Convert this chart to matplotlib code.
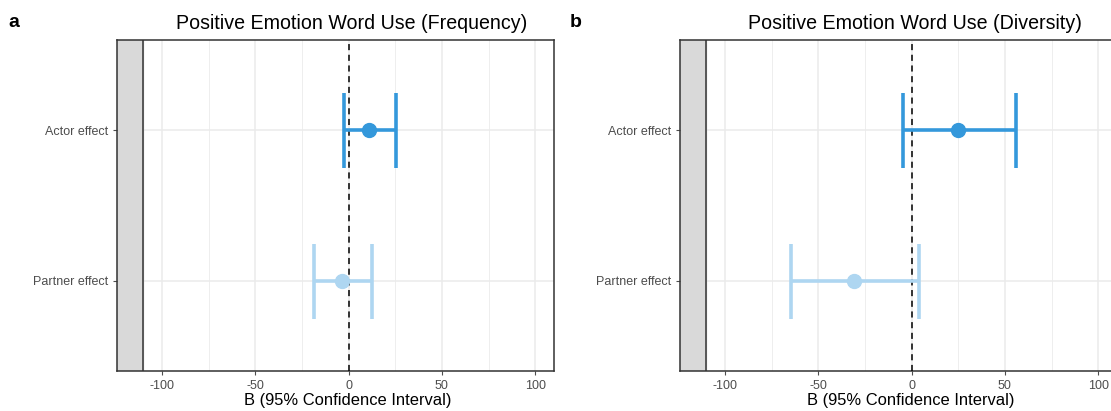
import matplotlib.pyplot as plt
import numpy as np

plt.rcParams['font.family'] = ['Liberation Sans', 'DejaVu Sans']

effects = ["Partner effect", "Actor effect"]
colors = ["#aed6f1", "#3498db"]

# panel a: frequency
freq_est = [-3.5, 11]
freq_lo = [-18.5, -2.5]
freq_hi = [12.5, 25.5]

# panel b: diversity
div_est = [-31, 25]
div_lo = [-64.5, -4.5]
div_hi = [4, 56]

titles = ["Positive Emotion Word Use (Frequency)", "Positive Emotion Word Use (Diversity)"]
tags = ["a", "b"]

fig = plt.figure(figsize=(11.11, 4.11), dpi=100)
boxes = [[117/1111, 40/411, 437/1111, 331/411],
         [680/1111, 40/411, 437/1111, 331/411]]
data = [(freq_est, freq_lo, freq_hi), (div_est, div_lo, div_hi)]

for i in range(2):
    ax = fig.add_axes(boxes[i])
    est, lo, hi = data[i]
    ax.set_xlim(-124, 110)
    ax.set_ylim(0.4, 2.6)
    # grid
    for gx in np.arange(-100, 101, 25):
        ax.axvline(gx, color="#ebebeb", lw=1.1 if gx % 50 == 0 else 0.6, zorder=0)
    for gy in [1, 2]:
        ax.axhline(gy, color="#ebebeb", lw=1.1, zorder=0)
    ax.axvspan(-124, -110, color="#d9d9d9", zorder=1)
    ax.axvline(-110, color="#333333", lw=1.1, zorder=2)
    ax.axvline(0, color="black", lw=1.1, ls=(0, (4, 3)), zorder=3)
    for j in range(2):
        y = j + 1
        ax.errorbar(est[j], y, xerr=[[est[j] - lo[j]], [hi[j] - est[j]]],
                    fmt="o", color=colors[j], ms=10, elinewidth=2.6,
                    capsize=27, capthick=2.6, zorder=4 + j)
    ax.set_yticks([1, 2])
    ax.set_yticklabels(effects)
    ax.set_xticks([-100, -50, 0, 50, 100])
    ax.set_xticklabels(["-100", "-50", "0", "50", "100"])
    ax.tick_params(colors="#4d4d4d", labelsize=9, length=3, width=0.8)
    for s in ax.spines.values():
        s.set_color("#333333")
        s.set_linewidth(1.1)
    ax.set_xlabel("B (95% Confidence Interval)", fontsize=11.9)
    ax.xaxis.set_label_coords(0.528, -0.066)
    ax.set_title(titles[i], fontsize=14.1, pad=8, x=0.538)
    fig.text(boxes[i][0] - (109 if i == 0 else 110)/1111, 0.945, tags[i],
             fontsize=14, fontweight="bold", va="center")

fig.savefig("out.png", dpi=100)
